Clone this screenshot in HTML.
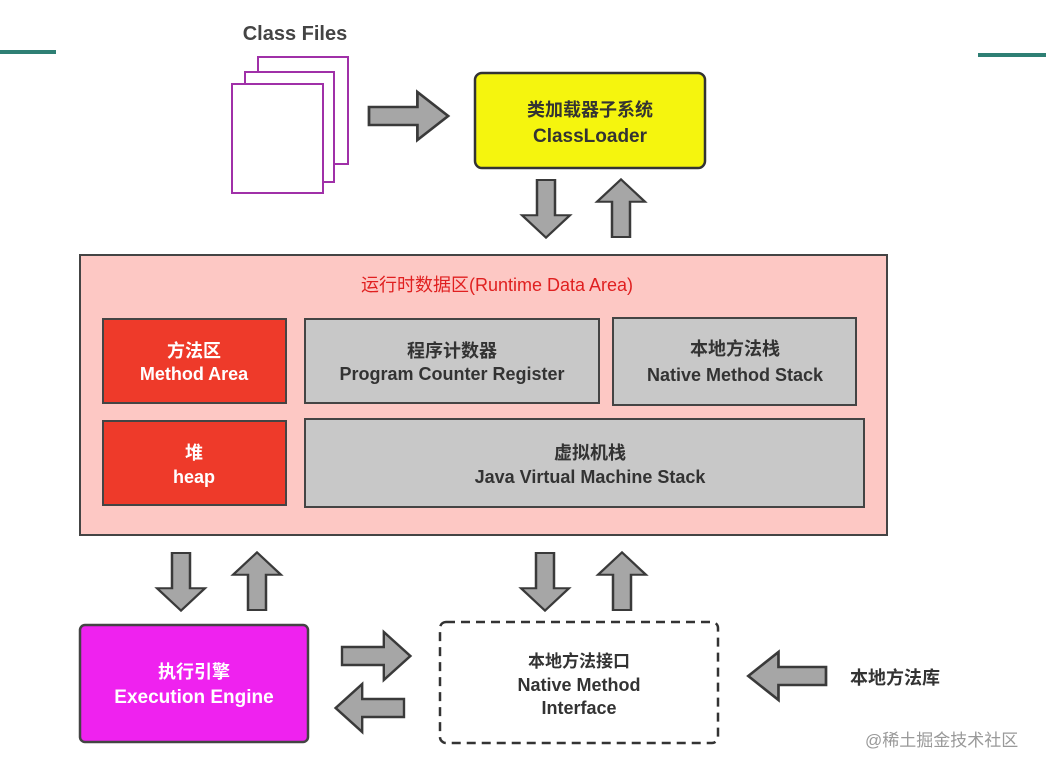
<!DOCTYPE html>
<html><head><meta charset="utf-8"><style>
body{margin:0;background:#fff;}
svg text{font-family:"Liberation Sans","Noto Sans CJK SC",sans-serif;font-weight:bold;}
</style></head><body>
<svg width="1046" height="770" viewBox="0 0 1046 770" xmlns="http://www.w3.org/2000/svg">
<defs>
<g id="ar"><path d="M0,-9 L44,-9 L44,-24 L72,0 L44,24 L44,9 L0,9 Z" fill="#a6a6a6" stroke="#3a3a3a" stroke-width="2.5" stroke-linejoin="miter"/></g>
</defs>
<rect x="0" y="50" width="56" height="4" fill="#2e7f74"/>
<rect x="978" y="53" width="68" height="4" fill="#2e7f74"/>
<text x="295" y="40" font-size="20" text-anchor="middle" fill="#444">Class Files</text>
<rect x="258" y="57" width="90" height="107" fill="#fff" stroke="#a030a8" stroke-width="2"/>
<rect x="245" y="72" width="89" height="110" fill="#fff" stroke="#a030a8" stroke-width="2"/>
<rect x="232" y="84" width="91" height="109" fill="#fff" stroke="#a030a8" stroke-width="2"/>
<use href="#ar" transform="translate(369,116) scale(1.1,1)"/>
<rect x="475" y="73" width="230" height="95" rx="7" fill="#f5f50e" stroke="#333" stroke-width="2.5"/>
<text x="590" y="116" font-size="18" text-anchor="middle" fill="#333">类加载器子系统</text>
<text x="590" y="142" font-size="19" text-anchor="middle" fill="#333">ClassLoader</text>
<use href="#ar" transform="translate(546,180) rotate(90) scale(0.8,1)"/>
<use href="#ar" transform="translate(621,237) rotate(-90) scale(0.8,1)"/>
<rect x="80" y="255" width="807" height="280" fill="#fdc8c4" stroke="#444" stroke-width="2"/>
<text x="497" y="291" font-size="18" font-weight="normal" style="font-weight:normal" text-anchor="middle" fill="#e02020">运行时数据区(Runtime Data Area)</text>
<g stroke="#444" stroke-width="2">
<rect x="103" y="319" width="183" height="84" fill="#ee3a2a"/>
<rect x="305" y="319" width="294" height="84" fill="#c8c8c8"/>
<rect x="613" y="318" width="243" height="87" fill="#c8c8c8"/>
<rect x="103" y="421" width="183" height="84" fill="#ee3a2a"/>
<rect x="305" y="419" width="559" height="88" fill="#c8c8c8"/>
</g>
<g font-size="18" text-anchor="middle">
<text x="194" y="357" fill="#fff">方法区</text>
<text x="194" y="380" fill="#fff">Method Area</text>
<text x="452" y="357" fill="#333">程序计数器</text>
<text x="452" y="380" fill="#333">Program Counter Register</text>
<text x="735" y="355" fill="#333">本地方法栈</text>
<text x="735" y="381" fill="#333">Native Method Stack</text>
<text x="194" y="459" fill="#fff">堆</text>
<text x="194" y="483" fill="#fff">heap</text>
<text x="590" y="459" fill="#333">虚拟机栈</text>
<text x="590" y="483" fill="#333">Java Virtual Machine Stack</text>
</g>
<use href="#ar" transform="translate(181,553) rotate(90) scale(0.8,1)"/>
<use href="#ar" transform="translate(257,610) rotate(-90) scale(0.8,1)"/>
<use href="#ar" transform="translate(545,553) rotate(90) scale(0.8,1)"/>
<use href="#ar" transform="translate(622,610) rotate(-90) scale(0.8,1)"/>
<rect x="80" y="625" width="228" height="117" rx="5" fill="#ef22ef" stroke="#444" stroke-width="2.5"/>
<text x="194" y="678" font-size="18" text-anchor="middle" fill="#fff">执行引擎</text>
<text x="194" y="703" font-size="19" text-anchor="middle" fill="#fff">Execution Engine</text>
<rect x="440" y="622" width="278" height="121" rx="6" fill="#fff" stroke="#333" stroke-width="2.5" stroke-dasharray="9,6"/>
<text x="579" y="667" font-size="17" text-anchor="middle" fill="#333">本地方法接口</text>
<text x="579" y="691" font-size="18" text-anchor="middle" fill="#333">Native Method</text>
<text x="579" y="714" font-size="18" text-anchor="middle" fill="#333">Interface</text>
<use href="#ar" transform="translate(342,656) scale(0.95,1)"/>
<use href="#ar" transform="translate(404,708) rotate(180) scale(0.95,1)"/>
<use href="#ar" transform="translate(826,676) rotate(180) scale(1.08,1)"/>
<text x="850" y="684" font-size="18" fill="#333">本地方法库</text>
<text x="865" y="746" font-size="17" style="font-weight:normal" fill="#999">@稀土掘金技术社区</text>
</svg>
</body></html>
